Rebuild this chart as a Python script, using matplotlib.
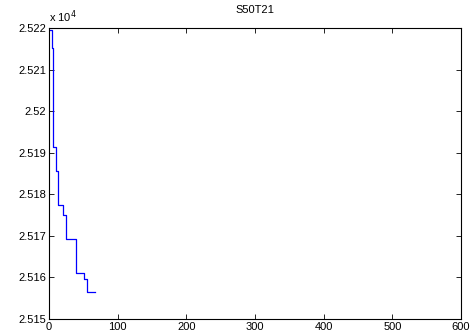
import numpy as np
import matplotlib
matplotlib.use('Agg')
import matplotlib.pyplot as plt

# step points (iteration, cost / 1e4)
iters = [1, 4, 6, 10, 13, 21, 25, 39, 51, 56, 67]
cost = [2.52195, 2.52151, 2.51914, 2.51857, 2.51774, 2.51750,
        2.51692, 2.51610, 2.51595, 2.51566, 2.51566]

xticks = [0, 100, 200, 300, 400, 500, 600]
yticks = [2.515, 2.516, 2.517, 2.518, 2.519, 2.52, 2.521, 2.522]
ytick_labels = ['2.515', '2.516', '2.517', '2.518', '2.519', '2.52', '2.521', '2.522']

plt.rcParams['font.family'] = ['Liberation Sans', 'DejaVu Sans']
plt.rcParams['font.size'] = 8

fig = plt.figure(figsize=(4.71, 3.35), dpi=100)
ax = fig.add_axes([0.104, 0.048, 0.875, 0.868])
ax.step(iters, cost, where='post', color='#0000ff', linewidth=0.9)

ax.set_xlim(0, 600)
ax.set_ylim(2.515, 2.522)
ax.set_xticks(xticks)
ax.set_yticks(yticks)
ax.set_yticklabels(ytick_labels)
ax.tick_params(direction='in', top=True, right=True, length=3.5, width=0.6,
               labelsize=8, pad=2)
for s in ax.spines.values():
    s.set_linewidth(0.8)

ax.set_title('S50T21', fontsize=8, pad=11)
ax.text(0.0, 1.01, r'x 10$^{4}$', transform=ax.transAxes, fontsize=8,
        ha='left', va='bottom')

fig.savefig('out.png', dpi=100)
